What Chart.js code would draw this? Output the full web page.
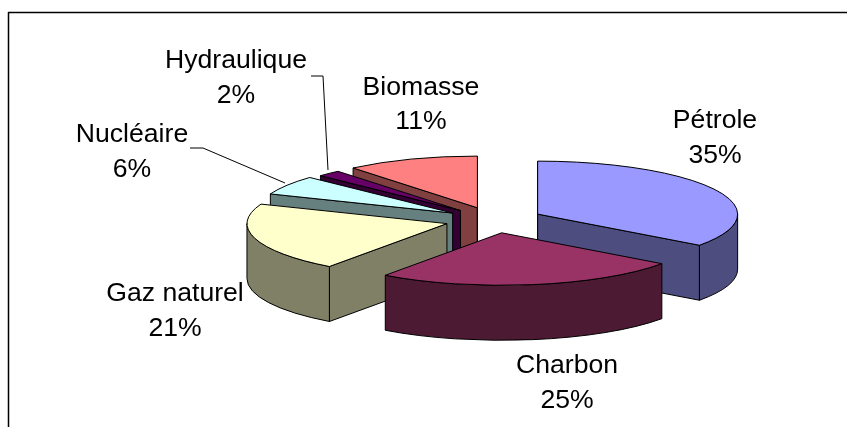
<!DOCTYPE html>
<html>
<head>
<meta charset="utf-8">
<style>
  html, body { margin: 0; padding: 0; background: #fff; }
  #wrap { width: 847px; height: 427px; }
</style>
<script src="https://cdn.jsdelivr.net/npm/chart.js@4/dist/chart.umd.js"></script>
</head>
<body>
<div id="wrap"><canvas id="energyChart" width="847" height="427"></canvas></div>
<script>
const labels = ["Pétrole", "Charbon", "Gaz naturel", "Nucléaire", "Hydraulique", "Biomasse"];
const values = [35, 25, 21, 6, 2, 11];
const topColors = ["#9999FF", "#993366", "#FFFFCC", "#CCFFFF", "#660066", "#FF8080"];
const sideColors = ["#4D4D80", "#4D1A33", "#808066", "#668080", "#330033", "#804040"];

// fake 3D settings
const squash = 0.265;
const depth = 55;
const explode = 49;
const centerY = 220;
const perspective = [1.01, 1, 1.01, 0.99, 0.97, 0.985];
const drawOrder = [5, 4, 3, 2, 0, 1];

const labelPos = [[715, 128], [567, 373], [175, 301], [132, 142], [236, 68], [421, 94.5]];
const lineGap = 34.5;
const leaders = [
  [[190, 148], [203, 148], [285, 183]],
  [[311, 76], [323, 76], [328, 170]],
];

function outline(ctx, x, y, rx, ry, a0, a1) {
  ctx.beginPath();
  ctx.moveTo(x, y);
  ctx.ellipse(x, y, rx, ry, 0, a0, a1);
  ctx.closePath();
}

function drawSlice(ctx, arc, i) {
  const a0 = arc.startAngle, a1 = arc.endAngle;
  const mid = (a0 + a1) / 2;
  const s = perspective[i];
  const x = arc.x + Math.cos(mid) * explode;
  const y = centerY + Math.sin(mid) * explode * squash;
  const rx = arc.outerRadius * s;
  const ry = rx * squash;

  ctx.fillStyle = sideColors[i];
  ctx.strokeStyle = "#000";
  ctx.lineWidth = 1;
  ctx.lineJoin = "round";

  // radial walls that face the viewer
  const radial = (a) => {
    const ox = x + Math.cos(a) * rx, oy = y + Math.sin(a) * ry;
    ctx.beginPath();
    ctx.moveTo(x, y);
    ctx.lineTo(ox, oy);
    ctx.lineTo(ox, oy + depth);
    ctx.lineTo(x, y + depth);
    ctx.closePath();
    ctx.fill();
    ctx.stroke();
  };
  if (Math.cos(a0) < 0.001) radial(a0);
  if (Math.cos(a1) > -0.001) radial(a1);

  // outer rim, front half only
  const lo = Math.max(a0, 0), hi = Math.min(a1, Math.PI);
  if (hi > lo) {
    ctx.beginPath();
    ctx.ellipse(x, y, rx, ry, 0, lo, hi);
    ctx.ellipse(x, y + depth, rx, ry, 0, hi, lo, true);
    ctx.closePath();
    ctx.fill();
    ctx.stroke();
  }

  // top face, filled by the arc element itself
  ctx.save();
  ctx.translate(x, y);
  ctx.scale(s, squash * s);
  ctx.translate(-arc.x, -arc.y);
  arc.draw(ctx);
  ctx.restore();
  outline(ctx, x, y, rx, ry, a0, a1);
  ctx.stroke();
}

const pie3d = {
  id: "pie3d",
  beforeDatasetDraw(chart, args) {
    const ctx = chart.ctx;
    const arcs = chart.getDatasetMeta(args.index).data;
    drawOrder.forEach((i) => drawSlice(ctx, arcs[i], i));
    return false;
  },
  afterDraw(chart) {
    const ctx = chart.ctx;
    ctx.save();
    // chart frame, only left and top are in the picture
    ctx.strokeStyle = "#000";
    ctx.lineWidth = 1.5;
    ctx.beginPath();
    ctx.moveTo(8.5, 427);
    ctx.lineTo(8.5, 12.5);
    ctx.lineTo(847, 12.5);
    ctx.stroke();

    ctx.lineWidth = 1;
    leaders.forEach((pts) => {
      ctx.beginPath();
      pts.forEach((p, n) => (n ? ctx.lineTo(p[0], p[1]) : ctx.moveTo(p[0], p[1])));
      ctx.stroke();
    });

    ctx.fillStyle = "#000";
    ctx.font = '26.6px "Liberation Sans", Arial, sans-serif';
    ctx.textAlign = "center";
    ctx.textBaseline = "alphabetic";
    labels.forEach((name, i) => {
      const [lx, ly] = labelPos[i];
      ctx.fillText(name, lx, ly);
      ctx.fillText(values[i] + "%", lx, ly + lineGap);
    });
    ctx.restore();
  },
};

new Chart(document.getElementById("energyChart"), {
  type: "pie",
  data: {
    labels: labels,
    datasets: [{
      data: values,
      backgroundColor: topColors,
      borderWidth: 0,
      clip: false,
    }],
  },
  options: {
    responsive: false,
    animation: false,
    radius: 198,
    layout: { padding: { left: 141 } },
    plugins: {
      legend: { display: false },
      tooltip: { enabled: false },
    },
  },
  plugins: [pie3d],
});
</script>
</body>
</html>
